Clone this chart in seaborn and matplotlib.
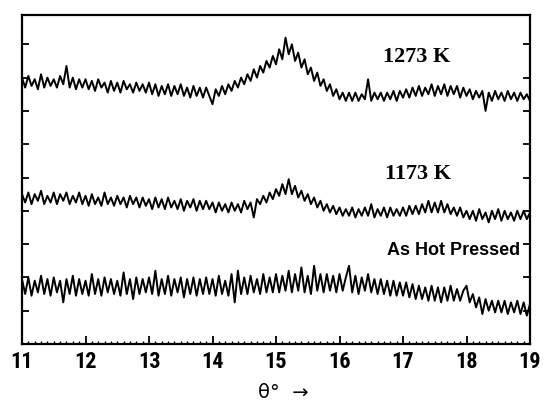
import numpy as np
import pandas as pd
import matplotlib
matplotlib.use("Agg")
import matplotlib.pyplot as plt
import seaborn as sns
from matplotlib.ticker import MultipleLocator

theta_start, theta_end = 11.0, 19.0

k1273 = [8.0, 7.7, 8.05, 7.75, 7.95, 7.65, 8.1, 7.7, 8.0, 7.75, 7.95, 7.7, 8.05, 7.8, 8.35, 7.7, 8.0, 7.65, 7.95, 7.7,
         7.95, 7.65, 7.9, 7.6, 7.95, 7.7, 7.85, 7.55, 7.9, 7.6, 7.85, 7.55, 7.9, 7.65, 7.8, 7.55, 7.85, 7.6, 7.8, 7.55,
         7.85, 7.5, 7.8, 7.45, 7.75, 7.5, 7.8, 7.45, 7.75, 7.5, 7.8, 7.45, 7.7, 7.4, 7.75, 7.45, 7.7, 7.4, 7.7, 7.45,
         7.2, 7.65, 7.45, 7.75, 7.5, 7.8, 7.6, 7.9, 7.7, 8.0, 7.8, 8.1, 7.9, 8.25, 8.0, 8.35, 8.15, 8.5, 8.3, 8.65,
         8.4, 8.85, 8.55, 9.2, 8.7, 9.0, 8.5, 8.75, 8.3, 8.55, 8.1, 8.3, 7.9, 8.15, 7.75, 7.95, 7.6, 7.8, 7.45, 7.65,
         7.35, 7.55, 7.3, 7.55, 7.3, 7.55, 7.3, 7.5, 7.35, 7.95, 7.3, 7.55, 7.35, 7.55, 7.3, 7.55, 7.35, 7.6, 7.3, 7.6,
         7.4, 7.65, 7.4, 7.7, 7.45, 7.75, 7.45, 7.7, 7.5, 7.8, 7.45, 7.75, 7.5, 7.8, 7.45, 7.75, 7.5, 7.75, 7.4, 7.7,
         7.45, 7.65, 7.35, 7.6, 7.4, 7.6, 7.0, 7.55, 7.3, 7.6, 7.35, 7.55, 7.3, 7.6, 7.35, 7.55, 7.3, 7.55, 7.35, 7.5,
         7.3]

k1173 = [4.5, 4.25, 4.55, 4.2, 4.5, 4.3, 4.6, 4.2, 4.45, 4.25, 4.55, 4.2, 4.5, 4.3, 4.55, 4.2, 4.45, 4.25, 4.55, 4.2,
         4.45, 4.15, 4.5, 4.2, 4.4, 4.15, 4.55, 4.2, 4.4, 4.15, 4.45, 4.2, 4.4, 4.1, 4.45, 4.2, 4.4, 4.1, 4.4, 4.15,
         4.35, 4.05, 4.4, 4.1, 4.35, 4.05, 4.4, 4.1, 4.3, 4.05, 4.35, 4.0, 4.3, 4.1, 4.35, 4.0, 4.3, 4.05, 4.3, 4.05,
         4.25, 3.95, 4.25, 4.0, 4.2, 3.95, 4.25, 4.0, 4.2, 3.95, 4.3, 4.05, 4.25, 3.8, 4.35, 4.2, 4.45, 4.25, 4.55, 4.35,
         4.65, 4.45, 4.8, 4.5, 4.95, 4.5, 4.75, 4.4, 4.6, 4.3, 4.5, 4.2, 4.4, 4.1, 4.3, 4.0, 4.2, 3.95, 4.15, 3.9,
         4.1, 3.85, 4.05, 3.85, 4.1, 3.8, 4.05, 3.85, 4.1, 3.85, 4.2, 3.8, 4.05, 3.85, 4.1, 3.8, 4.1, 3.85, 4.05, 3.85,
         4.1, 3.85, 4.15, 3.9, 4.15, 3.9, 4.2, 3.95, 4.3, 3.95, 4.25, 3.95, 4.3, 3.95, 4.2, 3.9, 4.1, 3.85, 4.1, 3.8,
         4.0, 3.75, 4.0, 3.7, 4.05, 3.75, 3.95, 3.65, 4.0, 3.75, 4.05, 3.7, 4.0, 3.75, 3.95, 3.7, 4.0, 3.75, 4.0, 3.75,
         3.95]

hot_pressed = [1.95, 1.5, 2.0, 1.45, 1.9, 1.55, 2.05, 1.5, 1.95, 1.45, 2.0, 1.55, 1.9, 1.25, 1.95, 1.5, 2.05, 1.45, 1.95, 1.5,
               1.9, 1.45, 2.1, 1.5, 1.95, 1.45, 2.0, 1.55, 1.95, 1.5, 1.9, 1.45, 2.15, 1.5, 1.95, 1.35, 2.0, 1.5, 1.95, 1.55,
               2.0, 1.5, 2.2, 1.45, 1.95, 1.5, 2.05, 1.45, 1.95, 1.55, 2.0, 1.4, 1.95, 1.5, 2.0, 1.45, 1.95, 1.5, 2.0, 1.5,
               1.95, 1.45, 2.05, 1.5, 1.9, 1.45, 2.1, 1.25, 2.2, 1.5, 2.0, 1.5, 2.05, 1.55, 1.95, 1.5, 2.1, 1.55, 2.0, 1.55,
               2.1, 1.55, 2.05, 1.6, 2.2, 1.55, 2.1, 1.6, 2.3, 1.55, 2.05, 1.5, 2.35, 1.6, 2.1, 1.55, 2.1, 1.6, 2.05, 1.55,
               2.1, 1.6, 2.0, 2.35, 1.55, 2.05, 1.5, 2.0, 1.6, 2.1, 1.55, 1.95, 1.5, 1.95, 1.5, 1.9, 1.45, 1.9, 1.45, 1.85,
               1.45, 1.85, 1.4, 1.8, 1.35, 1.75, 1.35, 1.7, 1.3, 1.75, 1.3, 1.7, 1.25, 1.7, 1.3, 1.75, 1.3, 1.65, 1.3, 1.6,
               1.75, 1.25, 1.5, 1.1, 1.4, 0.9, 1.35, 1.0, 1.3, 0.95, 1.3, 0.95, 1.3, 0.9, 1.25, 0.95, 1.3, 0.9, 1.25, 0.85,
               1.2]

sample_names = ["1273 K", "1173 K", "As Hot Pressed"]
x_ticks = [11, 12, 13, 14, 15, 16, 17, 18, 19]

theta = np.linspace(theta_start, theta_end, len(k1273))
df = pd.concat([
    pd.DataFrame({"theta": theta, "intensity": vals, "sample": name})
    for name, vals in zip(sample_names, [k1273, k1173, hot_pressed])
])

sns.set_style("ticks")
plt.rcParams["text.color"] = "black"
plt.rcParams["xtick.color"] = "black"
plt.rcParams["ytick.color"] = "black"
fig = plt.figure(figsize=(5.55, 4.09), dpi=100)
ax = fig.add_axes([22/555, 1-344/409, (530-22)/555, (344-15)/409])

sns.lineplot(data=df, x="theta", y="intensity", hue="sample", units="sample",
             estimator=None, palette=["black"]*3, linewidth=1.4, legend=False, ax=ax)

ax.set_xlim(theta_start, theta_end)
ax.set_ylim(0, (344-15)/33.3)
ax.set_xticks(x_ticks)
ax.xaxis.set_minor_locator(MultipleLocator(0.1))
ax.set_yticks(range(1, 10))
ax.set_yticklabels([])
ax.tick_params(axis="x", which="major", direction="in", length=6, width=1.3, top=False,
               labelsize=16, pad=5, colors="black")
ax.tick_params(axis="x", which="minor", direction="in", length=2.5, width=1.0, top=False,
               colors="black")
ax.tick_params(axis="y", which="major", direction="in", length=5, width=1.3, left=True,
               right=True, colors="black")
for lbl in ax.get_xticklabels():
    lbl.set_fontfamily(["Roboto Condensed", "PT Sans Narrow", "DejaVu Sans"])
    lbl.set_fontweight("bold")
for sp in ax.spines.values():
    sp.set_linewidth(1.6)
    sp.set_color("black")
ax.set_xlabel("")
ax.set_ylabel("")

serif = ["Liberation Serif", "DejaVu Serif"]
ax.text(17.22, 8.62, sample_names[0], ha="center", va="center", fontsize=16,
        fontweight="bold", family=serif, color="black")
ax.text(17.24, 5.1, sample_names[1], ha="center", va="center", fontsize=16,
        fontweight="bold", family=serif, color="black")
ax.text(18.84, 2.82, sample_names[2], ha="right", va="center", fontsize=13,
        fontweight="bold", family=["Liberation Sans", "DejaVu Sans"], color="black")

fig.text(283/555, 1-393/409, "θ°  →", ha="center", va="center", fontsize=14,
         family=["DejaVu Sans"], color="black")

fig.savefig("out.png", dpi=100, facecolor="white")
